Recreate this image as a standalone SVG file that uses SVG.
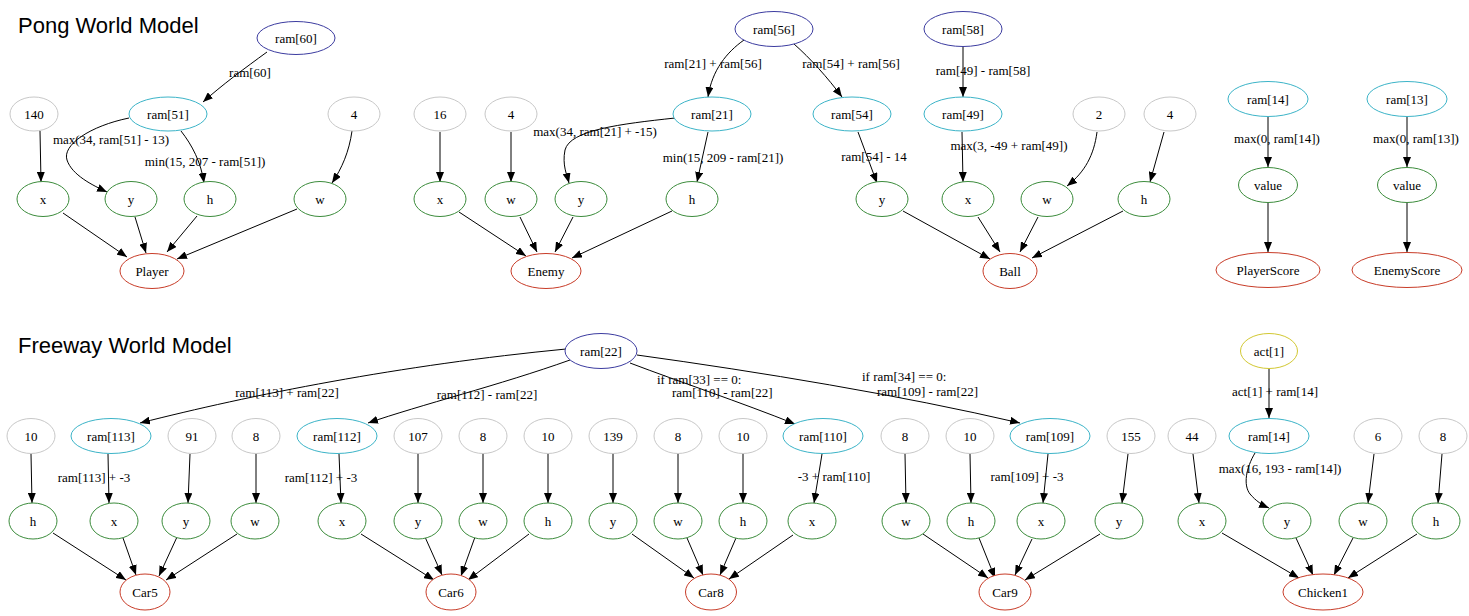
<svg xmlns="http://www.w3.org/2000/svg" width="1469" height="616" viewBox="0 0 1469 616">
<style>
ellipse{fill:#fff;stroke-width:1}
.g{stroke:#c8c8c8}.gr{stroke:#3c8c3c}.r{stroke:#c83c28}.b{stroke:#3c3ca0}.c{stroke:#3cb4c8}.y{stroke:#d2c832}
text{font-family:"Liberation Serif","Times New Roman",serif;font-size:13px;fill:#000}
.n{text-anchor:middle}
.l{text-anchor:middle}
.title{font-family:"Liberation Sans",Arial,sans-serif;font-size:22px}
.e{fill:none;stroke:#000;stroke-width:1;marker-end:url(#a)}
</style>
<defs>
<marker id="a" viewBox="0 0 10 8" refX="10" refY="4" markerWidth="10" markerHeight="8" orient="auto" markerUnits="userSpaceOnUse"><path d="M0,0 L10,4 L0,8 z" fill="#000"/></marker>
</defs>
<rect width="1469" height="616" fill="#fff"/>
<text class="title" x="18" y="33">Pong World Model</text>
<text class="title" x="18" y="353">Freeway World Model</text>

<g id="connectors">
<!-- Player -->
<path class="e" d="M267,52 C245,68 222,85 203,102"/>
<path class="e" d="M129,118 C90,126 62,145 67,160 C72,175 92,185 107,192"/>
<path class="e" d="M181,131 C192,145 201,162 204,183"/>
<path class="e" d="M40,131 L41,182"/>
<path class="e" d="M352,131 C349,152 342,168 332,183"/>
<path class="e" d="M63,213 L127,257"/>
<path class="e" d="M135,217 L146,253"/>
<path class="e" d="M197,216 L167,252"/>
<path class="e" d="M297,209 L177,259"/>
<!-- Enemy -->
<path class="e" d="M744,40 C727,52 712,70 708,97"/>
<path class="e" d="M675,118 C620,124 570,130 565,150 C562,165 567,175 569,183"/>
<path class="e" d="M708,132 L697,182"/>
<path class="e" d="M440,132 L440,182"/>
<path class="e" d="M511,132 L511,182"/>
<path class="e" d="M459,212 L526,256"/>
<path class="e" d="M520,217 L537,252"/>
<path class="e" d="M573,217 L555,252"/>
<path class="e" d="M672,211 L572,258"/>
<!-- Ball -->
<path class="e" d="M794,44 C810,58 828,78 842,97"/>
<path class="e" d="M963,46 L963,97"/>
<path class="e" d="M858,132 L877,183"/>
<path class="e" d="M962,132 L963,182"/>
<path class="e" d="M1097,132 C1094,155 1085,172 1067,186"/>
<path class="e" d="M1164,132 L1150,182"/>
<path class="e" d="M903,211 L990,259"/>
<path class="e" d="M978,217 L1000,252"/>
<path class="e" d="M1038,217 L1020,252"/>
<path class="e" d="M1123,211 L1032,258"/>
<!-- Scores -->
<path class="e" d="M1268,117 L1268,167"/>
<path class="e" d="M1407,117 L1407,167"/>
<path class="e" d="M1268,203 L1268,252"/>
<path class="e" d="M1407,203 L1407,252"/>
<!-- Freeway ram22 -->
<path class="e" d="M566,349 C400,365 250,395 140,423"/>
<path class="e" d="M570,360 C500,385 420,405 368,423"/>
<path class="e" d="M630,363 C680,382 740,402 795,424"/>
<path class="e" d="M637,355 C760,372 900,395 1020,423"/>
<!-- Car5 -->
<path class="e" d="M31,454 L32,503"/>
<path class="e" d="M108,454 L109,503"/>
<path class="e" d="M190,454 L188,503"/>
<path class="e" d="M256,454 L256,503"/>
<path class="e" d="M53,533 L126,580"/>
<path class="e" d="M123,538 L136,575"/>
<path class="e" d="M177,537 L159,576"/>
<path class="e" d="M237,534 L166,580"/>
<!-- Car6 -->
<path class="e" d="M339,454 L341,503"/>
<path class="e" d="M418,454 L418,503"/>
<path class="e" d="M483,454 L483,503"/>
<path class="e" d="M548,454 L548,503"/>
<path class="e" d="M361,534 L434,580"/>
<path class="e" d="M425,537 L442,575"/>
<path class="e" d="M475,537 L461,576"/>
<path class="e" d="M529,534 L468,580"/>
<!-- Car8 -->
<path class="e" d="M613,454 L613,503"/>
<path class="e" d="M678,454 L678,503"/>
<path class="e" d="M743,454 L743,503"/>
<path class="e" d="M822,454 L814,503"/>
<path class="e" d="M632,534 L694,578"/>
<path class="e" d="M687,538 L703,575"/>
<path class="e" d="M736,538 L720,575"/>
<path class="e" d="M793,535 L729,579"/>
<!-- Car9 -->
<path class="e" d="M905,454 L906,503"/>
<path class="e" d="M970,454 L971,503"/>
<path class="e" d="M1048,454 L1043,503"/>
<path class="e" d="M1128,454 L1122,503"/>
<path class="e" d="M923,534 L988,578"/>
<path class="e" d="M979,538 L995,578"/>
<path class="e" d="M1032,539 L1015,575"/>
<path class="e" d="M1100,534 L1025,580"/>
<!-- Chicken1 -->
<path class="e" d="M1269,369 L1269,418"/>
<path class="e" d="M1255,453 C1246,468 1243,485 1250,494 C1256,501 1262,505 1269,508"/>
<path class="e" d="M1193,454 L1199,503"/>
<path class="e" d="M1374,454 L1368,503"/>
<path class="e" d="M1442,454 L1438,503"/>
<path class="e" d="M1222,533 L1299,578"/>
<path class="e" d="M1296,538 L1313,575"/>
<path class="e" d="M1353,538 L1334,575"/>
<path class="e" d="M1417,534 L1348,578"/>
</g>

<g id="edge-labels">
<text class="l" x="250" y="77">ram[60]</text>
<text class="l" x="111" y="144">max(34, ram[51] - 13)</text>
<text class="l" x="205" y="166">min(15, 207 - ram[51])</text>
<text class="l" x="713" y="68">ram[21] + ram[56]</text>
<text class="l" x="595" y="136">max(34, ram[21] + -15)</text>
<text class="l" x="723" y="162">min(15, 209 - ram[21])</text>
<text class="l" x="851" y="68">ram[54] + ram[56]</text>
<text class="l" x="983" y="75">ram[49] - ram[58]</text>
<text class="l" x="874" y="161">ram[54] - 14</text>
<text class="l" x="1009" y="150">max(3, -49 + ram[49])</text>
<text class="l" x="1277" y="143">max(0, ram[14])</text>
<text class="l" x="1416" y="143">max(0, ram[13])</text>
<text class="l" x="287" y="397">ram[113] + ram[22]</text>
<text class="l" x="487" y="399">ram[112] - ram[22]</text>
<text x="657" y="384">if ram[33] == 0:</text>
<text x="672" y="397">ram[110] - ram[22]</text>
<text x="862" y="381">if ram[34] == 0:</text>
<text x="877" y="396">ram[109] - ram[22]</text>
<text class="l" x="94" y="482">ram[113] + -3</text>
<text class="l" x="321" y="482">ram[112] + -3</text>
<text class="l" x="834" y="481">-3 + ram[110]</text>
<text class="l" x="1027" y="481">ram[109] + -3</text>
<text class="l" x="1275" y="396">act[1] + ram[14]</text>
<text class="l" x="1280" y="473">max(16, 193 - ram[14])</text>
</g>

<!-- Pong: Player -->
<g id="p_ram60"><ellipse class="b" cx="296" cy="38" rx="39" ry="16.5"/><text class="n" x="296" y="42.5">ram[60]</text></g>
<g id="p_ram51"><ellipse class="c" cx="168" cy="114" rx="39" ry="17"/><text class="n" x="168" y="118.5">ram[51]</text></g>
<g id="p_140"><ellipse class="g" cx="34" cy="114" rx="24" ry="17"/><text class="n" x="34" y="118.5">140</text></g>
<g id="p_4"><ellipse class="g" cx="354" cy="114" rx="26" ry="17"/><text class="n" x="354" y="118.5">4</text></g>
<g id="p_x"><ellipse class="gr" cx="43" cy="199" rx="26" ry="17.5"/><text class="n" x="43" y="203.5">x</text></g>
<g id="p_y"><ellipse class="gr" cx="131" cy="199" rx="26" ry="17.5"/><text class="n" x="131" y="203.5">y</text></g>
<g id="p_h"><ellipse class="gr" cx="210" cy="199" rx="26" ry="17.5"/><text class="n" x="210" y="203.5">h</text></g>
<g id="p_w"><ellipse class="gr" cx="320" cy="199" rx="26" ry="17.5"/><text class="n" x="320" y="203.5">w</text></g>
<g id="Player"><ellipse class="r" cx="152" cy="271" rx="32" ry="17.5"/><text class="n" x="152" y="275.5">Player</text></g>

<!-- Pong: Enemy -->
<g id="e_ram56"><ellipse class="b" cx="774" cy="29" rx="39" ry="17.5"/><text class="n" x="774" y="33.5">ram[56]</text></g>
<g id="e_ram21"><ellipse class="c" cx="712" cy="114" rx="39" ry="17"/><text class="n" x="712" y="118.5">ram[21]</text></g>
<g id="e_16"><ellipse class="g" cx="440" cy="114" rx="26" ry="17"/><text class="n" x="440" y="118.5">16</text></g>
<g id="e_4"><ellipse class="g" cx="511" cy="114" rx="26" ry="17"/><text class="n" x="511" y="118.5">4</text></g>
<g id="e_x"><ellipse class="gr" cx="440" cy="199" rx="26" ry="17.5"/><text class="n" x="440" y="203.5">x</text></g>
<g id="e_w"><ellipse class="gr" cx="511" cy="199" rx="26" ry="17.5"/><text class="n" x="511" y="203.5">w</text></g>
<g id="e_y"><ellipse class="gr" cx="581" cy="199" rx="26" ry="17.5"/><text class="n" x="581" y="203.5">y</text></g>
<g id="e_h"><ellipse class="gr" cx="692" cy="199" rx="26" ry="17.5"/><text class="n" x="692" y="203.5">h</text></g>
<g id="Enemy"><ellipse class="r" cx="546" cy="271" rx="35" ry="17.5"/><text class="n" x="546" y="275.5">Enemy</text></g>

<!-- Pong: Ball -->
<g id="b_ram54"><ellipse class="c" cx="852" cy="114" rx="39" ry="17"/><text class="n" x="852" y="118.5">ram[54]</text></g>
<g id="b_ram58"><ellipse class="b" cx="963" cy="29" rx="39" ry="17.5"/><text class="n" x="963" y="33.5">ram[58]</text></g>
<g id="b_ram49"><ellipse class="c" cx="963" cy="114" rx="39" ry="17"/><text class="n" x="963" y="118.5">ram[49]</text></g>
<g id="b_2"><ellipse class="g" cx="1099" cy="114" rx="26" ry="17"/><text class="n" x="1099" y="118.5">2</text></g>
<g id="b_4"><ellipse class="g" cx="1170" cy="114" rx="26" ry="17"/><text class="n" x="1170" y="118.5">4</text></g>
<g id="b_y"><ellipse class="gr" cx="882" cy="199" rx="26" ry="17.5"/><text class="n" x="882" y="203.5">y</text></g>
<g id="b_x"><ellipse class="gr" cx="968" cy="199" rx="26" ry="17.5"/><text class="n" x="968" y="203.5">x</text></g>
<g id="b_w"><ellipse class="gr" cx="1047" cy="199" rx="26" ry="17.5"/><text class="n" x="1047" y="203.5">w</text></g>
<g id="b_h"><ellipse class="gr" cx="1144" cy="199" rx="26" ry="17.5"/><text class="n" x="1144" y="203.5">h</text></g>
<g id="Ball"><ellipse class="r" cx="1010" cy="271" rx="27" ry="17.5"/><text class="n" x="1010" y="275.5">Ball</text></g>

<!-- Pong: Scores -->
<g id="s_ram14"><ellipse class="c" cx="1268" cy="99" rx="40" ry="17.5"/><text class="n" x="1268" y="103.5">ram[14]</text></g>
<g id="s_ram13"><ellipse class="c" cx="1407" cy="99" rx="40" ry="17.5"/><text class="n" x="1407" y="103.5">ram[13]</text></g>
<g id="s_value1"><ellipse class="gr" cx="1268" cy="185" rx="29.5" ry="17.5"/><text class="n" x="1268" y="189.5">value</text></g>
<g id="s_value2"><ellipse class="gr" cx="1407" cy="185" rx="29.5" ry="17.5"/><text class="n" x="1407" y="189.5">value</text></g>
<g id="PlayerScore"><ellipse class="r" cx="1268" cy="270" rx="52" ry="17.5"/><text class="n" x="1268" y="274.5">PlayerScore</text></g>
<g id="EnemyScore"><ellipse class="r" cx="1407" cy="270" rx="55" ry="17.5"/><text class="n" x="1407" y="274.5">EnemyScore</text></g>

<!-- Freeway -->
<g id="f_ram22"><ellipse class="b" cx="601" cy="351" rx="36" ry="17.5"/><text class="n" x="601" y="355.5">ram[22]</text></g>
<g id="f_act1"><ellipse class="y" cx="1269" cy="351" rx="28.5" ry="17.5"/><text class="n" x="1269" y="355.5">act[1]</text></g>

<g id="c5_10"><ellipse class="g" cx="31" cy="436" rx="24" ry="17.5"/><text class="n" x="31" y="440.5">10</text></g>
<g id="c5_ram113"><ellipse class="c" cx="111" cy="436" rx="40" ry="17.5"/><text class="n" x="111" y="440.5">ram[113]</text></g>
<g id="c5_91"><ellipse class="g" cx="192" cy="436" rx="24" ry="17.5"/><text class="n" x="192" y="440.5">91</text></g>
<g id="c5_8"><ellipse class="g" cx="256" cy="436" rx="24" ry="17.5"/><text class="n" x="256" y="440.5">8</text></g>
<g id="c5_h"><ellipse class="gr" cx="33" cy="521" rx="24" ry="18"/><text class="n" x="33" y="525.5">h</text></g>
<g id="c5_x"><ellipse class="gr" cx="114" cy="521" rx="24" ry="18"/><text class="n" x="114" y="525.5">x</text></g>
<g id="c5_y"><ellipse class="gr" cx="186" cy="521" rx="24" ry="18"/><text class="n" x="186" y="525.5">y</text></g>
<g id="c5_w"><ellipse class="gr" cx="255" cy="521" rx="24" ry="18"/><text class="n" x="255" y="525.5">w</text></g>
<g id="Car5"><ellipse class="r" cx="145" cy="592" rx="25" ry="18"/><text class="n" x="145" y="596.5">Car5</text></g>

<g id="c6_ram112"><ellipse class="c" cx="337" cy="436" rx="40" ry="17.5"/><text class="n" x="337" y="440.5">ram[112]</text></g>
<g id="c6_107"><ellipse class="g" cx="418" cy="436" rx="24" ry="17.5"/><text class="n" x="418" y="440.5">107</text></g>
<g id="c6_8"><ellipse class="g" cx="483" cy="436" rx="24" ry="17.5"/><text class="n" x="483" y="440.5">8</text></g>
<g id="c6_10"><ellipse class="g" cx="548" cy="436" rx="24" ry="17.5"/><text class="n" x="548" y="440.5">10</text></g>
<g id="c6_x"><ellipse class="gr" cx="342" cy="521" rx="24" ry="18"/><text class="n" x="342" y="525.5">x</text></g>
<g id="c6_y"><ellipse class="gr" cx="418" cy="521" rx="24" ry="18"/><text class="n" x="418" y="525.5">y</text></g>
<g id="c6_w"><ellipse class="gr" cx="483" cy="521" rx="24" ry="18"/><text class="n" x="483" y="525.5">w</text></g>
<g id="c6_h"><ellipse class="gr" cx="548" cy="521" rx="24" ry="18"/><text class="n" x="548" y="525.5">h</text></g>
<g id="Car6"><ellipse class="r" cx="451" cy="592" rx="25" ry="18"/><text class="n" x="451" y="596.5">Car6</text></g>

<g id="c8_139"><ellipse class="g" cx="613" cy="436" rx="24" ry="17.5"/><text class="n" x="613" y="440.5">139</text></g>
<g id="c8_8"><ellipse class="g" cx="678" cy="436" rx="24" ry="17.5"/><text class="n" x="678" y="440.5">8</text></g>
<g id="c8_10"><ellipse class="g" cx="743" cy="436" rx="24" ry="17.5"/><text class="n" x="743" y="440.5">10</text></g>
<g id="c8_ram110"><ellipse class="c" cx="823" cy="436" rx="40" ry="17.5"/><text class="n" x="823" y="440.5">ram[110]</text></g>
<g id="c8_y"><ellipse class="gr" cx="613" cy="521" rx="24" ry="18"/><text class="n" x="613" y="525.5">y</text></g>
<g id="c8_w"><ellipse class="gr" cx="678" cy="521" rx="24" ry="18"/><text class="n" x="678" y="525.5">w</text></g>
<g id="c8_h"><ellipse class="gr" cx="743" cy="521" rx="24" ry="18"/><text class="n" x="743" y="525.5">h</text></g>
<g id="c8_x"><ellipse class="gr" cx="812" cy="521" rx="24" ry="18"/><text class="n" x="812" y="525.5">x</text></g>
<g id="Car8"><ellipse class="r" cx="711" cy="592" rx="25.5" ry="18"/><text class="n" x="711" y="596.5">Car8</text></g>

<g id="c9_8"><ellipse class="g" cx="905" cy="436" rx="24" ry="17.5"/><text class="n" x="905" y="440.5">8</text></g>
<g id="c9_10"><ellipse class="g" cx="970" cy="436" rx="24" ry="17.5"/><text class="n" x="970" y="440.5">10</text></g>
<g id="c9_ram109"><ellipse class="c" cx="1050" cy="436" rx="40" ry="17.5"/><text class="n" x="1050" y="440.5">ram[109]</text></g>
<g id="c9_155"><ellipse class="g" cx="1131" cy="436" rx="24" ry="17.5"/><text class="n" x="1131" y="440.5">155</text></g>
<g id="c9_w"><ellipse class="gr" cx="906" cy="521" rx="24" ry="18"/><text class="n" x="906" y="525.5">w</text></g>
<g id="c9_h"><ellipse class="gr" cx="971" cy="521" rx="24" ry="18"/><text class="n" x="971" y="525.5">h</text></g>
<g id="c9_x"><ellipse class="gr" cx="1041" cy="521" rx="24" ry="18"/><text class="n" x="1041" y="525.5">x</text></g>
<g id="c9_y"><ellipse class="gr" cx="1119" cy="521" rx="24" ry="18"/><text class="n" x="1119" y="525.5">y</text></g>
<g id="Car9"><ellipse class="r" cx="1005" cy="592" rx="26" ry="18"/><text class="n" x="1005" y="596.5">Car9</text></g>

<g id="ch_44"><ellipse class="g" cx="1192" cy="436" rx="24" ry="17.5"/><text class="n" x="1192" y="440.5">44</text></g>
<g id="ch_ram14"><ellipse class="c" cx="1269" cy="436" rx="40" ry="17.5"/><text class="n" x="1269" y="440.5">ram[14]</text></g>
<g id="ch_6"><ellipse class="g" cx="1378" cy="436" rx="24" ry="17.5"/><text class="n" x="1378" y="440.5">6</text></g>
<g id="ch_8"><ellipse class="g" cx="1443" cy="436" rx="24" ry="17.5"/><text class="n" x="1443" y="440.5">8</text></g>
<g id="ch_x"><ellipse class="gr" cx="1202" cy="521" rx="24" ry="18"/><text class="n" x="1202" y="525.5">x</text></g>
<g id="ch_y"><ellipse class="gr" cx="1287" cy="521" rx="24" ry="18"/><text class="n" x="1287" y="525.5">y</text></g>
<g id="ch_w"><ellipse class="gr" cx="1363" cy="521" rx="24" ry="18"/><text class="n" x="1363" y="525.5">w</text></g>
<g id="ch_h"><ellipse class="gr" cx="1436" cy="521" rx="24" ry="18"/><text class="n" x="1436" y="525.5">h</text></g>
<g id="Chicken1"><ellipse class="r" cx="1323" cy="592" rx="40" ry="18"/><text class="n" x="1323" y="596.5">Chicken1</text></g>
</svg>
